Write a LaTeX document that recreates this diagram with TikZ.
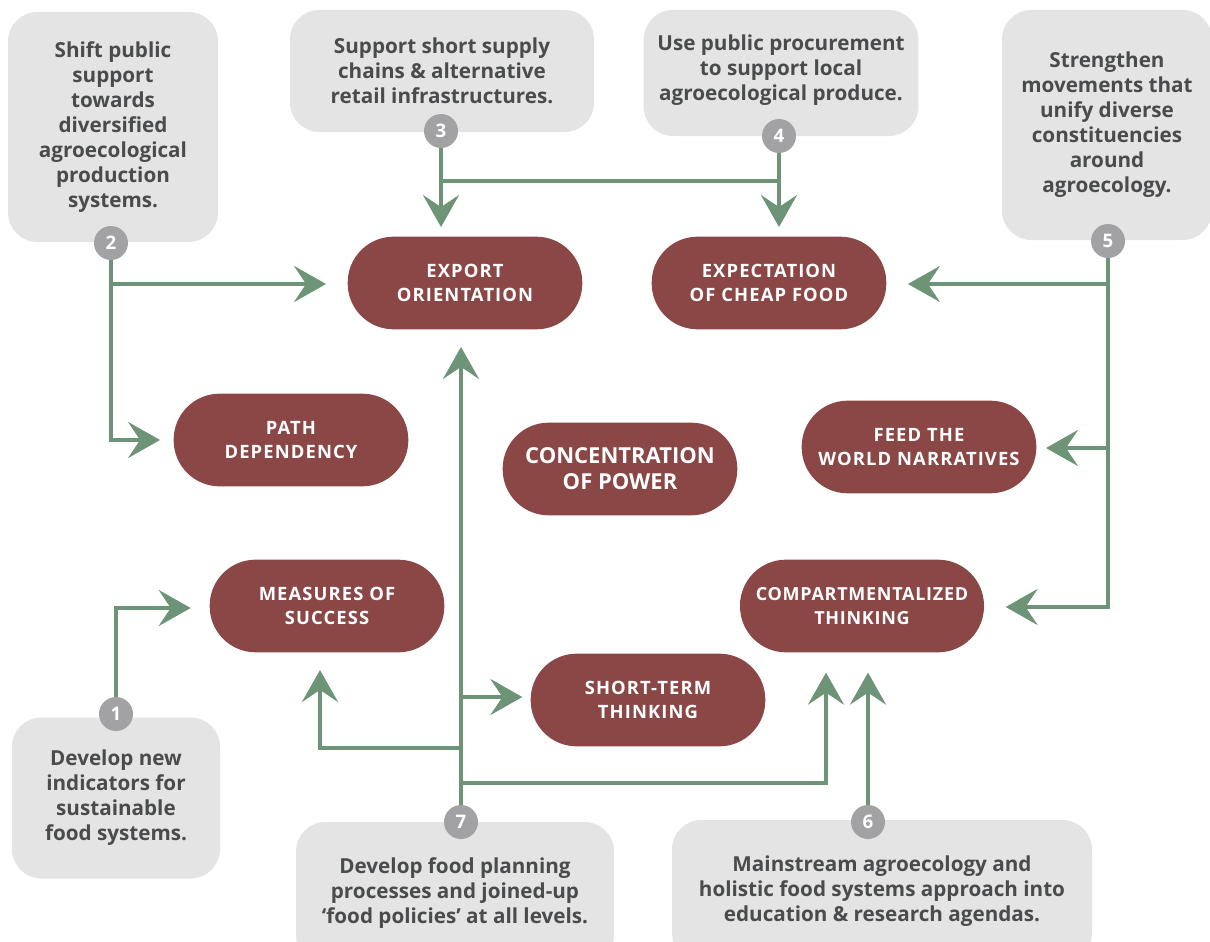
\documentclass[tikz,border=0pt]{standalone}
\usepackage{fontspec}
\setmainfont{Open Sans}
\newfontfamily\pillfont{Open Sans}[LetterSpace=6]
\newfontfamily\tightfont{Open Sans}[LetterSpace=4]
\usetikzlibrary{arrows.meta,positioning,calc}
\definecolor{pillred}{HTML}{8A4746}
\definecolor{leaf}{HTML}{6E9478}
\definecolor{boxgrey}{HTML}{E4E4E4}
\definecolor{dotgrey}{HTML}{A2A2A4}
\definecolor{inkgrey}{HTML}{4A4B4D}
\tikzset{
  lever/.style={fill=boxgrey, rounded corners=22pt, align=center, text=inkgrey,
    font=\fontsize{15.5}{18.75}\selectfont\bfseries, inner sep=0pt},
  barrier/.style={fill=pillred, rounded corners=34.5pt, align=center, text=white,
    minimum width=176pt, minimum height=69.5pt,
    font=\pillfont\fontsize{13.8}{18}\selectfont\bfseries, inner sep=0pt},
  num/.style={circle, fill=dotgrey, text=white, minimum size=25.5pt, inner sep=0pt,
    font=\fontsize{14}{14}\selectfont\bfseries},
  link/.style={draw=leaf, line width=3pt},
  flow/.style={link, -{Stealth[length=24pt, width=27pt, inset=9pt]}},
}
\begin{document}
\begin{tikzpicture}[x=0.75pt, y=-0.75pt]
  \useasboundingbox (0,0) rectangle (1210,942);

  % Levers (grey boxes)
  \node[lever, minimum width=157.5pt, minimum height=172.5pt] (b2) at (113,127)
    {Shift public\\support\\towards\\diversified\\agroecological\\production\\systems.};
  \node[lever, minimum width=228pt, minimum height=91.5pt] (b3) at (442,71)
    {Support short supply\\chains \& alternative\\retail infrastructures.};
  \node[lever, minimum width=206pt, minimum height=94.5pt] (b4) at (781,73)
    {Use public procurement\\to support local\\agroecological produce.\\[-11pt]};
  \node[lever, minimum width=157.5pt, minimum height=172.5pt] (b5) at (1107,125)
    {Strengthen\\movements that\\unify diverse\\constituencies\\around\\agroecology.};
  \node[lever, minimum width=156pt, minimum height=120.75pt] (b1) at (116,798)
    {Develop new\\indicators for\\sustainable\\food systems.};
  \node[lever, minimum width=238.5pt, minimum height=106.5pt] (b7) at (455,893)
    {Develop food planning\\processes and joined-up\\‘food policies’ at all levels.};
  \node[lever, minimum width=315pt, minimum height=106.5pt] (b6) at (882,891)
    {Mainstream agroecology and\\holistic food systems approach into\\education \& research agendas.};

  % Barriers (red pills)
  \node[barrier] (export) at (465,283) {EXPORT\\ORIENTATION};
  \node[barrier] (cheap) at (769,283) {EXPECTATION\\OF CHEAP FOOD};
  \node[barrier] (path) at (291,440) {PATH\\DEPENDENCY};
  \node[barrier, font=\fontsize{16.5}{19.5}\selectfont\bfseries] (power) at (620,469)
    {CONCENTRATION\\OF POWER};
  \node[barrier] (feed) at (919,447) {FEED THE\\WORLD NARRATIVES};
  \node[barrier] (measures) at (327,606) {MEASURES OF\\SUCCESS};
  \node[barrier, minimum width=183pt, font=\tightfont\fontsize{13.5}{18}\selectfont\bfseries]
    (compart) at (862,606) {COMPARTMENTALIZED\\THINKING};
  \node[barrier] (short) at (648,700) {SHORT-TERM\\THINKING};

  % Junctions
  \coordinate (c1) at (116,714);
  \coordinate (c2) at (111,243);
  \coordinate (c3) at (441,131);
  \coordinate (c4) at (779,136);
  \coordinate (c5) at (1108,241);
  \coordinate (c6) at (868,822);
  \coordinate (c7) at (461,822);
  \coordinate (j3) at (441,181);
  \coordinate (j4) at (779,181);
  \coordinate (j2a) at (111,284);
  \coordinate (j2b) at (111,440);
  \coordinate (j5a) at (1108,284);
  \coordinate (j5b) at (1108,448);
  \coordinate (j5c) at (1108,607);
  \coordinate (j1) at (116,608);
  \coordinate (j7a) at (461,697);
  \coordinate (j7b) at (461,748);
  \coordinate (j7c) at (461,783);
  \coordinate (k7b) at (320,748);
  \coordinate (k7c) at (826,783);

  % Connect the nodes
  \draw[flow, shorten >=7pt] (c3) -- (c3 |- export.north);
  \draw[link] (j3) -- (j4);
  \draw[flow, shorten >=7pt] (c4) -- (c4 |- cheap.north);

  \draw[flow, shorten >=10pt] (c2) -- (j2b) -- (path.west);
  \draw[flow, shorten >=16pt] (j2a) -- (j2a -| export.west);

  \draw[flow, shorten >=16pt] (c5) -- (j5c) -- (j5c -| compart.east);
  \draw[flow, shorten >=16pt] (j5a) -- (j5a -| cheap.east);
  \draw[flow, shorten >=7pt] (j5b) -- (j5b -| feed.east);

  \draw[flow, shorten >=14pt] (c1) -- (j1) -- (j1 -| measures.west);

  \draw[flow, shorten >=13pt] (c7) -- (c7 |- export.south);
  \draw[flow, shorten >=6pt] (j7a) -- (j7a -| short.west);
  \draw[flow, shorten >=13pt] (j7b) -- (k7b) -- (k7b |- measures.south);
  \draw[flow, shorten >=15pt] (j7c) -- (k7c) -- (k7c |- compart.south);

  \draw[flow, shorten >=15pt] (c6) -- (c6 |- compart.south);

  % Numbers
  \foreach \i in {1,...,7}
    \node[num] (n\i) at (c\i) {\i};
\end{tikzpicture}
\end{document}
